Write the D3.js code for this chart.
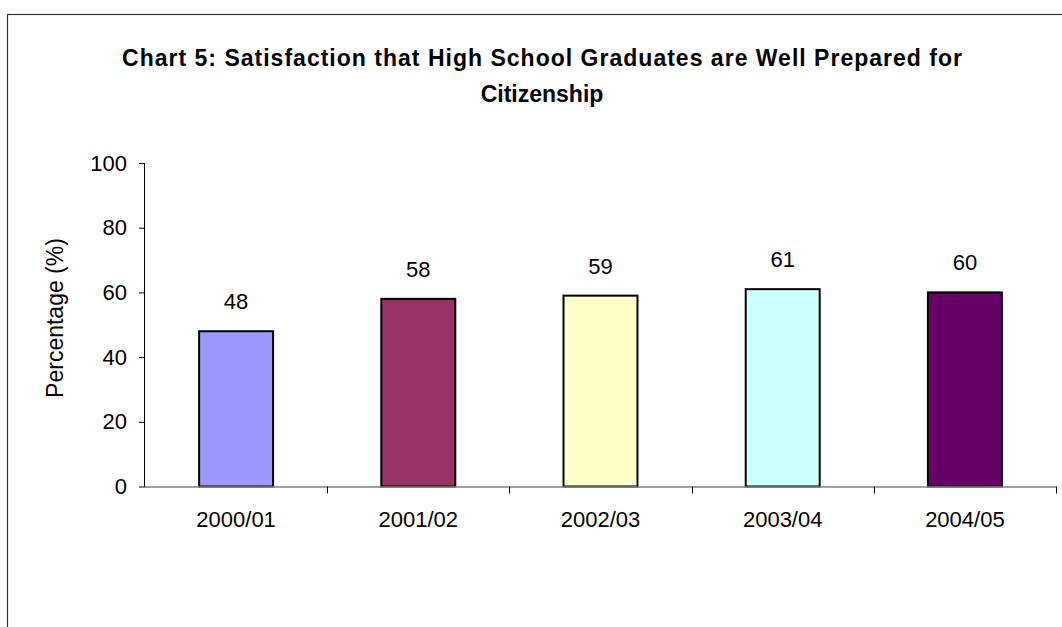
<!DOCTYPE html>
<html>
<head>
<meta charset="utf-8">
<script src="https://cdn.jsdelivr.net/npm/d3@7"></script>
<style>
html,body{margin:0;padding:0;background:#fff;}
svg{display:block;}
text{font-family:"Liberation Sans",Arial,sans-serif;fill:#000;}
</style>
</head>
<body>
<div id="chart"></div>
<script>
const categories = ["2000/01","2001/02","2002/03","2003/04","2004/05"];
const values = [48,58,59,61,60];
const colors = ["#9999FF","#993366","#FFFFCC","#CCFFFF","#660066"];
const yTicks = [0,20,40,60,80,100];
const titleLines = ["Chart 5: Satisfaction that High School Graduates are Well Prepared for","Citizenship"];
const yLabel = "Percentage (%)";

(function(){
const W = 1062, H = 627;
const svg = d3.select("#chart").append("svg").attr("width",W).attr("height",H);

// outer chart border (clipped on right and bottom)
svg.append("rect").attr("x",7.5).attr("y",14.5).attr("width",W+20).attr("height",H+20)
  .attr("fill","#fff").attr("stroke","#333").attr("stroke-width",1.2);

const pLeft = 145, pRight = 1056, pTop = 163, pBottom = 486.5;
const x = d3.scaleBand().domain(categories).range([pLeft,pRight]).paddingInner(0.594).paddingOuter(0.297);
const y = d3.scaleLinear().domain([0,100]).range([pBottom,pTop]);

// title
const title = svg.append("g");
title.append("text").attr("x",542).attr("y",66).attr("text-anchor","middle")
  .attr("font-weight","bold").attr("font-size",23).attr("textLength",840).attr("lengthAdjust","spacing")
  .text(titleLines[0]);
title.append("text").attr("x",542).attr("y",102).attr("text-anchor","middle")
  .attr("font-weight","bold").attr("font-size",23)
  .text(titleLines[1]);

// bars
svg.append("g").selectAll("rect").data(values).join("rect")
  .attr("x",(d,i)=>x(categories[i]))
  .attr("y",d=>y(d))
  .attr("width",x.bandwidth())
  .attr("height",d=>y(0)-y(d))
  .attr("fill",(d,i)=>colors[i])
  .attr("stroke","#000").attr("stroke-width",2);

// value labels
svg.append("g").selectAll("text").data(values).join("text")
  .attr("x",(d,i)=>x(categories[i])+x.bandwidth()/2)
  .attr("y",d=>y(d)-22)
  .attr("text-anchor","middle").attr("font-size",22)
  .text(d=>d);

// y axis
const yAxis = svg.append("g").attr("transform",`translate(${pLeft},0)`)
  .call(d3.axisLeft(y).tickValues(yTicks).tickSize(6).tickPadding(12));
yAxis.select(".domain").attr("stroke","#000").attr("d",`M-0.5,${pTop}V${pBottom}`);
yAxis.selectAll(".tick line").attr("stroke","#000");
yAxis.selectAll(".tick text").attr("font-size",22).attr("font-family","'Liberation Sans',Arial,sans-serif").attr("fill","#000");

// x axis
const step = x.step();
const xTickPos = d3.range(categories.length+1).map(i=>pLeft + i*step);
const xg = svg.append("g");
xg.append("line").attr("x1",pLeft).attr("x2",pRight).attr("y1",pBottom+0.5).attr("y2",pBottom+0.5)
  .attr("stroke","#808080").attr("stroke-width",1.5);
xg.selectAll("line.tk").data(xTickPos.slice(1)).join("line").attr("class","tk")
  .attr("x1",d=>Math.round(d)+0.5).attr("x2",d=>Math.round(d)+0.5)
  .attr("y1",pBottom).attr("y2",pBottom+7).attr("stroke","#000");
xg.selectAll("text").data(categories).join("text")
  .attr("x",d=>x(d)+x.bandwidth()/2).attr("y",527)
  .attr("text-anchor","middle").attr("font-size",22)
  .text(d=>d);

// y label
svg.append("text").attr("transform",`translate(63,318) rotate(-90)`)
  .attr("text-anchor","middle").attr("font-size",23).text(yLabel);
})();
</script>
</body>
</html>
